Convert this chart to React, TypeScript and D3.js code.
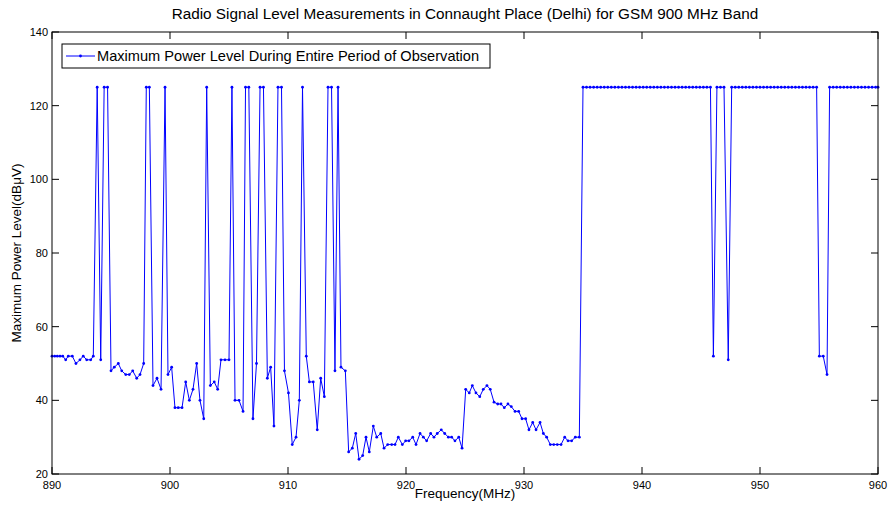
import React from "react";
import * as d3 from "d3";

const title = "Radio Signal Level Measurements in Connaught Place (Delhi) for GSM 900 MHz Band";
const xLabel = "Frequency(MHz)";
const yLabel = "Maximum Power Level(dB\u03bcV)";
const legendLabel = "Maximum Power Level During Entire Period of Observation";

const xTicks = [890, 900, 910, 920, 930, 940, 950, 960];
const yTicks = [20, 40, 60, 80, 100, 120, 140];

// Uplink / mid band readings (MHz)
const freqsLow = [
  890.00, 890.23, 890.45, 890.68, 890.91, 891.16, 891.38, 891.72, 892.03, 892.37,
  892.65, 892.94, 893.28, 893.50, 893.83, 894.13, 894.42, 894.71, 895.00, 895.28,
  895.62, 895.91, 896.25, 896.55, 896.84, 897.18, 897.46, 897.77, 897.99, 898.25,
  898.56, 898.90, 899.24, 899.58, 899.83, 900.14, 900.42, 900.70, 901.02, 901.33,
  901.64, 901.95, 902.26, 902.54, 902.86, 903.11, 903.42, 903.75, 904.04, 904.32,
  904.66, 905.00, 905.25, 905.51, 905.85, 906.19, 906.40, 906.68, 907.03, 907.33,
  907.63, 907.92, 908.25, 908.53, 908.81, 909.15, 909.45, 909.70, 910.04, 910.36,
  910.68, 910.96, 911.23, 911.55, 911.81, 912.14, 912.48, 912.77, 913.08, 913.39,
  913.69, 913.98, 914.24, 914.49, 914.86, 915.14, 915.45, 915.74, 916.02, 916.33,
  916.61, 916.89, 917.23, 917.52, 917.86, 918.14, 918.45, 918.79, 919.07, 919.35,
  919.69, 919.97, 920.25, 920.57, 920.85, 921.19, 921.47, 921.75, 922.09, 922.37,
  922.65, 922.99, 923.28, 923.59, 923.87, 924.15, 924.47, 924.75, 925.06, 925.36,
  925.62, 925.93, 926.25, 926.55, 926.86, 927.14, 927.46, 927.77, 928.05, 928.33,
  928.64, 928.92, 929.24, 929.55, 929.83, 930.14, 930.42, 930.74, 931.02, 931.36,
  931.64, 931.92, 932.23, 932.52, 932.82, 933.14, 933.45, 933.73, 934.04, 934.35,
  934.69,
];
const levelsLow = [
  52, 52, 52, 52, 52, 51, 52, 52, 50, 51,
  52, 51, 51, 52, 125, 51, 125, 125, 48, 49,
  50, 48, 47, 47, 48, 46, 47, 50, 125, 125,
  44, 46, 43, 125, 47, 49, 38, 38, 38, 45,
  40, 43, 50, 40, 35, 125, 44, 45, 43, 51,
  51, 51, 125, 40, 40, 37, 125, 125, 35, 50,
  125, 125, 46, 49, 33, 125, 125, 48, 42, 28,
  30, 40, 125, 52, 45, 45, 32, 46, 41, 125,
  125, 48, 125, 49, 48, 26, 27, 31, 24, 25,
  30, 26, 33, 30, 31, 27, 28, 28, 28, 30,
  28, 29, 29, 30, 28, 31, 30, 29, 31, 30,
  31, 32, 31, 30, 30, 29, 30, 27, 43, 42,
  44, 42, 41, 43, 44, 43, 39.5, 39, 39, 38,
  39, 38.3, 37, 37, 35, 35, 32, 34, 32, 34,
  31, 30, 28, 28, 28, 28, 30, 29, 29, 30,
  30,
];

// Downlink band readings (MHz)
const freqsHigh = [
  935.0, 935.3, 935.6, 935.9, 936.2, 936.5, 936.8, 937.1, 937.4, 937.7,
  938.0, 938.3, 938.6, 938.9, 939.2, 939.5, 939.8, 940.1, 940.4, 940.7,
  941.0, 941.3, 941.6, 941.9, 942.2, 942.5, 942.8, 943.1, 943.4, 943.7,
  944.0, 944.3, 944.6, 944.9, 945.2, 945.5, 945.8, 946.05, 946.35, 946.65,
  946.95, 947.31, 947.6, 947.9, 948.2, 948.5, 948.8, 949.1, 949.4, 949.7,
  950.0, 950.3, 950.6, 950.9, 951.2, 951.5, 951.8, 952.1, 952.4, 952.7,
  953.0, 953.3, 953.6, 953.9, 954.2, 954.5, 954.8, 955.03, 955.36, 955.68,
  955.9, 956.2, 956.5, 956.8, 957.1, 957.4, 957.7, 958.0, 958.3, 958.6,
  958.9, 959.2, 959.5, 959.8, 960.0,
];
const levelsHigh = [
  125, 125, 125, 125, 125, 125, 125, 125, 125, 125,
  125, 125, 125, 125, 125, 125, 125, 125, 125, 125,
  125, 125, 125, 125, 125, 125, 125, 125, 125, 125,
  125, 125, 125, 125, 125, 125, 125, 52, 125, 125,
  125, 51, 125, 125, 125, 125, 125, 125, 125, 125,
  125, 125, 125, 125, 125, 125, 125, 125, 125, 125,
  125, 125, 125, 125, 125, 125, 125, 52, 52, 47,
  125, 125, 125, 125, 125, 125, 125, 125, 125, 125,
  125, 125, 125, 125, 125,
];

const W = 892;
const H = 509;
const M = { left: 52, right: 878, top: 32, bottom: 474 };
const FONT = "'Liberation Sans', Arial, sans-serif";
const BLUE = "#0000ff";

export default function App() {
  const freqs = [...freqsLow, ...freqsHigh];
  const levels = [...levelsLow, ...levelsHigh];
  const pts: [number, number][] = freqs.map((f, i) => [f, levels[i]]);

  const x = d3.scaleLinear().domain([890, 960]).range([M.left, M.right]);
  const y = d3.scaleLinear().domain([20, 140]).range([M.bottom, M.top]);
  const line = d3
    .line<[number, number]>()
    .x((d) => x(d[0]))
    .y((d) => y(d[1]));

  const tickLen = 7;

  return (
    <svg
      width={W}
      height={H}
      style={{ position: "fixed", left: 0, top: 0, background: "#fff" }}
      fontFamily={FONT}
    >
      <rect x={0} y={0} width={W} height={H} fill="#fff" />
      <text x={465} y={19} textAnchor="middle" fontSize={15.3} fill="#000">
        {title}
      </text>

      {/* data */}
      <path d={line(pts) || ""} fill="none" stroke={BLUE} strokeWidth={1} strokeLinejoin="round" />
      {pts.map((d, i) => (
        <circle key={i} cx={x(d[0])} cy={y(d[1])} r={1.4} fill={BLUE} />
      ))}

      {/* frame */}
      <rect
        x={M.left}
        y={M.top}
        width={M.right - M.left}
        height={M.bottom - M.top}
        fill="none"
        stroke="#000"
        strokeWidth={1}
      />

      {/* x ticks */}
      {xTicks.map((t) => (
        <g key={"x" + t}>
          <line x1={x(t)} x2={x(t)} y1={M.bottom} y2={M.bottom - tickLen} stroke="#000" />
          <line x1={x(t)} x2={x(t)} y1={M.top} y2={M.top + tickLen} stroke="#000" />
          <text x={x(t)} y={M.bottom + 15} textAnchor="middle" fontSize={11} fill="#000">
            {t}
          </text>
        </g>
      ))}

      {/* y ticks */}
      {yTicks.map((t) => (
        <g key={"y" + t}>
          <line x1={M.left} x2={M.left + tickLen} y1={y(t)} y2={y(t)} stroke="#000" />
          <line x1={M.right} x2={M.right - tickLen} y1={y(t)} y2={y(t)} stroke="#000" />
          <text x={M.left - 4} y={y(t) + 4} textAnchor="end" fontSize={11} fill="#000">
            {t}
          </text>
        </g>
      ))}

      <text x={465} y={498} textAnchor="middle" fontSize={13.5} fill="#000">
        {xLabel}
      </text>
      <text
        transform={`translate(21, ${(M.top + M.bottom) / 2}) rotate(-90)`}
        textAnchor="middle"
        fontSize={13.5}
        fill="#000"
      >
        {yLabel}
      </text>

      {/* legend */}
      <rect x={62} y={44} width={428} height={24} fill="#fff" stroke="#000" strokeWidth={1} />
      <line x1={66} x2={95} y1={56} y2={56} stroke={BLUE} strokeWidth={1} />
      <circle cx={80.5} cy={56} r={1.4} fill={BLUE} />
      <text x={97} y={61} fontSize={14.6} fill="#000">
        {legendLabel}
      </text>
    </svg>
  );
}
